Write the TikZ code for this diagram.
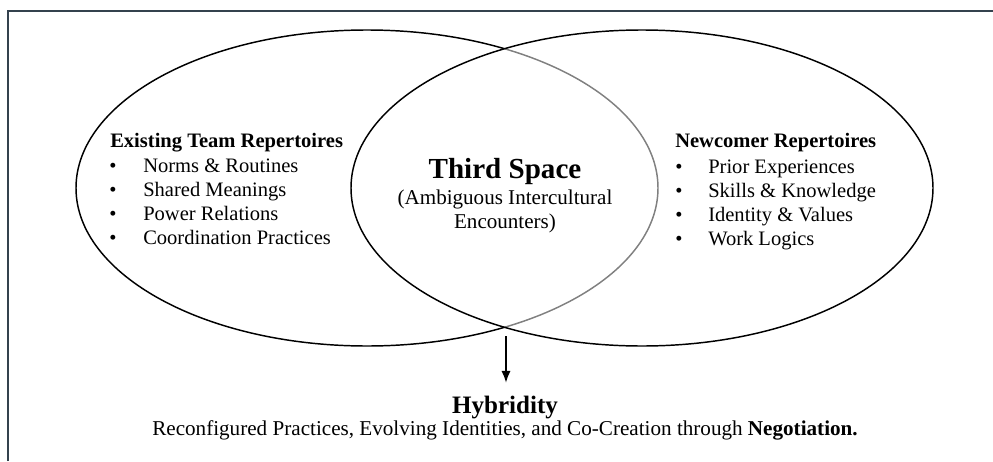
\documentclass[tikz,border=0pt]{standalone}
\usepackage{fontspec}
\setmainfont{Liberation Serif}
\usepackage{tikz}
\usetikzlibrary{arrows.meta}

\definecolor{framecol}{RGB}{52,66,78}

\tikzset{
  ring/.style={line width=1.1pt},
  headtxt/.style={font=\fontsize{15.4}{18}\selectfont\bfseries, anchor=base west, inner sep=0pt},
  itemtxt/.style={font=\fontsize{15.4}{18}\selectfont, anchor=base west, inner sep=0pt},
  midtxt/.style={font=\fontsize{15.8}{18}\selectfont, anchor=base, inner sep=0pt},
  arr/.style={line width=1.5pt, -{Latex[length=9pt,width=7pt]}}
}

\begin{document}
\begin{tikzpicture}[x=0.75pt,y=0.75pt,yscale=-1]
  \useasboundingbox (0,0) rectangle (993,461);

  %Frame: top and left edge only
  \draw [framecol, line width=1.6pt] (8,461) -- (8,11) -- (993,11) ;

  %Shape: Ellipse left
  \draw [ring] (367,188) ellipse [x radius=291, y radius=158] ;
  %Shape: Ellipse right (half white fill greys the arc below)
  \draw [ring, fill=white, fill opacity=0.5] (642,188) ellipse [x radius=291, y radius=158] ;

  %Left list
  \node [headtxt] (teamhead) at (110,147) {Existing Team Repertoires};
  \foreach \txt [count=\i] in {Norms \& Routines, Shared Meanings, Power Relations, Coordination Practices} {
    \node [itemtxt] (teamdot-\i) at (109,{148+24*\i}) {•};
    \node [itemtxt] (team-\i) at (143,{148+24*\i}) {\txt};
  }

  %Right list
  \node [headtxt] (newhead) at (675,147) {Newcomer Repertoires};
  \foreach \txt [count=\i] in {Prior Experiences, Skills \& Knowledge, Identity \& Values, Work Logics} {
    \node [itemtxt] (newdot-\i) at (675,{149+24*\i}) {•};
    \node [itemtxt] (new-\i) at (708,{149+24*\i}) {\txt};
  }

  %Overlap
  \node [font=\fontsize{21.8}{24}\selectfont\bfseries, anchor=base, inner sep=0pt] (third) at (505,178) {Third Space};
  \node [midtxt] (thirdsub) at (505,204) {(Ambiguous Intercultural};
  \node [midtxt] (thirdsub2) at (505,228) {Encounters)};

  %Outcome
  \coordinate (cross) at (506,336);
  \node [font=\fontsize{18.8}{22}\selectfont\bfseries, anchor=base] (hyb) at (505,413) {Hybridity};
  \node [font=\fontsize{15.85}{18}\selectfont, anchor=base, inner sep=0pt] (hybsub) at (505,435) {Reconfigured Practices, Evolving Identities, and Co-Creation through \textbf{Negotiation.}};

  \draw [arr, shorten >=6pt] (cross) -- (cross |- hyb.north) ;
\end{tikzpicture}
\end{document}
